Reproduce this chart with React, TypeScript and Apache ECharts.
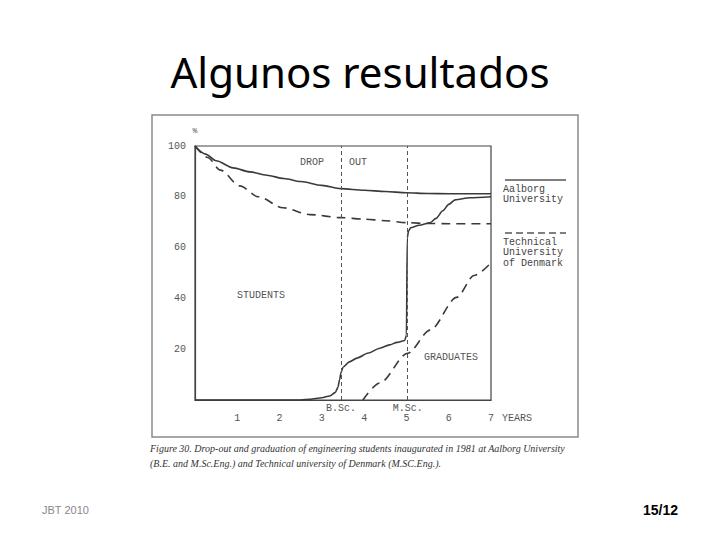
import React, { useEffect, useRef } from "react";
import * as echarts from "echarts";

// ---- data ----
const titleText = "Algunos resultados";
const yearMin = 0;
const yearMax = 7;
const percentMin = 0;
const percentMax = 100;
const percentStep = 20;
const degreeLabels = ["B.Sc.", "M.Sc."];
const degreeYears = [3.45, 5.03];

const aalborgStudentYears = [0, 0.25, 0.5, 0.9, 1.3, 1.7, 2.1, 2.5, 3.0, 3.45, 4.0, 4.5, 5.0, 5.5, 6.0, 6.5, 7.0];
const aalborgStudentValues = [100, 96.8, 94.2, 91.4, 89.8, 88.5, 87.2, 86.0, 84.5, 83.2, 82.6, 82.1, 81.6, 81.3, 81.2, 81.2, 81.2];

const dtuStudentYears = [0, 0.3, 0.6, 1.06, 1.5, 2.08, 2.72, 3.45, 4.0, 4.5, 5.03, 5.5, 6.0, 7.0];
const dtuStudentValues = [100, 95.5, 90.5, 84.3, 80.0, 75.7, 73.0, 71.8, 71.2, 70.6, 69.8, 69.5, 69.4, 69.4];

const aalborgGraduateYears = [0, 2.5, 2.72, 3.0, 3.19, 3.32, 3.38, 3.42, 3.45, 3.5, 3.65, 3.83, 4.1, 4.37, 4.6, 4.78, 4.96, 5.0, 5.02, 5.05, 5.1, 5.3, 5.56, 5.7, 5.86, 6.0, 6.15, 6.5, 7.0];
const aalborgGraduateValues = [0, 0, 0.3, 0.9, 1.6, 3.0, 5.0, 8.0, 10.6, 12.9, 15.0, 16.5, 18.5, 20.4, 21.7, 22.7, 23.4, 25.5, 64.0, 66.5, 67.8, 68.8, 69.8, 71.5, 74.5, 77.0, 78.8, 79.6, 80.0];

const dtuGraduateYears = [3.97, 4.37, 5.03, 5.56, 6.19, 6.6, 7.0];
const dtuGraduateValues = [0, 6.7, 18.4, 27.5, 40.4, 49.0, 54.0];

const legendNames = ["Aalborg\nUniversity", "Technical\nUniversity\nof Denmark"];
const captionLines = [
  "Figure 30. Drop-out and graduation of engineering students inaugurated in 1981 at Aalborg University",
  "(B.E. and M.Sc.Eng.) and Technical university of Denmark (M.SC.Eng.).",
];
const footerLeft = "JBT 2010";
const footerRight = "15/12";

const zip = (xs: number[], ys: number[]) => xs.map((x, i) => [x, ys[i]]);

const MONO = "'Liberation Mono', 'DejaVu Sans Mono', monospace";
const INK = "#3a3a3a";
const LABEL = "#555";

export default function App() {
  const ref = useRef<HTMLDivElement>(null);

  useEffect(() => {
    if (!ref.current) return;
    const chart = echarts.init(ref.current, null, { renderer: "svg" });

    const solid = { color: INK, width: 1.6, type: "solid" as const };
    const dashed = { color: INK, width: 1.6, type: [9, 6] as any };

    chart.setOption({
      animation: false,
      backgroundColor: "#ffffff",
      title: {
        text: titleText,
        left: "center",
        top: 45,
        textStyle: {
          fontFamily: "'Noto Sans', 'Liberation Sans', sans-serif",
          fontSize: 42,
          fontWeight: "normal",
          color: "#000",
        },
      },
      grid: {
        left: 195,
        top: 146,
        right: 229,
        bottom: 140,
        show: true,
        borderColor: "#444",
        borderWidth: 1.2,
        containLabel: false,
      },
      xAxis: {
        type: "value",
        min: yearMin,
        max: yearMax,
        interval: 1,
        name: "YEARS",
        nameLocation: "end",
        nameGap: 11,
        nameTextStyle: {
          fontFamily: MONO,
          fontSize: 10,
          color: LABEL,
          verticalAlign: "top",
          padding: [13, 0, 0, 0],
        },
        axisLine: { show: true, lineStyle: { color: "#444", width: 1.2 } },
        axisTick: { show: false },
        splitLine: { show: false },
        axisLabel: {
          margin: 13,
          fontFamily: MONO,
          fontSize: 10,
          color: LABEL,
          formatter: (v: number) => (v === 0 ? "" : String(v)),
        },
      },
      yAxis: {
        type: "value",
        min: percentMin,
        max: percentMax,
        interval: percentStep,
        name: "%",
        nameLocation: "end",
        nameGap: 12,
        nameTextStyle: { fontFamily: MONO, fontSize: 8, color: LABEL },
        axisLine: { show: true, lineStyle: { color: "#444", width: 1.2 } },
        axisTick: { show: false },
        splitLine: { show: false },
        axisLabel: {
          margin: 9,
          fontFamily: MONO,
          fontSize: 10,
          color: LABEL,
          formatter: (v: number) => (v === 0 ? "" : String(v)),
        },
      },
      series: [
        {
          name: "Aalborg University students",
          type: "line",
          data: zip(aalborgStudentYears, aalborgStudentValues),
          showSymbol: false,
          smooth: 0.3,
          smoothMonotone: "x",
          lineStyle: solid,
          markLine: {
            silent: true,
            symbol: ["none", "none"],
            lineStyle: { color: "#555", width: 1, type: [4, 3] },
            label: {
              show: true,
              position: "start",
              distance: 3,
              fontFamily: MONO,
              fontSize: 10,
              color: LABEL,
              formatter: (p: any) => p.name,
            },
            data: degreeYears.map((y, i) => ({ xAxis: y, name: degreeLabels[i] })),
          },
        },
        {
          name: "Technical University of Denmark students",
          type: "line",
          data: zip(dtuStudentYears, dtuStudentValues),
          showSymbol: false,
          smooth: 0.3,
          smoothMonotone: "x",
          lineStyle: dashed,
        },
        {
          name: "Aalborg University graduates",
          type: "line",
          data: zip(aalborgGraduateYears, aalborgGraduateValues),
          showSymbol: false,
          smooth: 0.25,
          smoothMonotone: "x",
          lineStyle: solid,
        },
        {
          name: "Technical University of Denmark graduates",
          type: "line",
          data: zip(dtuGraduateYears, dtuGraduateValues),
          showSymbol: false,
          smooth: 0.3,
          smoothMonotone: "x",
          lineStyle: dashed,
        },
      ],
      graphic: [
        {
          type: "rect",
          silent: true,
          z: -1,
          shape: { x: 152, y: 115, width: 426, height: 322 },
          style: { fill: "none", stroke: "#8a8a8a", lineWidth: 1.5 },
        },
        { type: "text", x: 300, y: 162, style: { text: "DROP", fontFamily: MONO, fontSize: 10, fill: LABEL, verticalAlign: "middle" } },
        { type: "text", x: 349, y: 162, style: { text: "OUT", fontFamily: MONO, fontSize: 10, fill: LABEL, verticalAlign: "middle" } },
        { type: "text", x: 237, y: 295, style: { text: "STUDENTS", fontFamily: MONO, fontSize: 10, fill: LABEL, verticalAlign: "middle" } },
        { type: "text", x: 424, y: 357, style: { text: "GRADUATES", fontFamily: MONO, fontSize: 10, fill: LABEL, verticalAlign: "middle" } },
        {
          type: "line",
          shape: { x1: 505, y1: 180, x2: 566, y2: 180 },
          style: { stroke: "#555", lineWidth: 1.3 },
        },
        {
          type: "text",
          x: 503,
          y: 184,
          style: { text: legendNames[0], fontFamily: MONO, fontSize: 10, lineHeight: 10.5, fill: "#444" },
        },
        {
          type: "line",
          shape: { x1: 505, y1: 233, x2: 566, y2: 233 },
          style: { stroke: "#555", lineWidth: 1.3, lineDash: [7, 4] },
        },
        {
          type: "text",
          x: 503,
          y: 237,
          style: { text: legendNames[1], fontFamily: MONO, fontSize: 10, lineHeight: 10.5, fill: "#444" },
        },
        {
          type: "text",
          x: 150,
          y: 441,
          style: {
            text: captionLines.join("\n"),
            fontFamily: "'Liberation Serif', 'DejaVu Serif', serif",
            fontStyle: "italic",
            fontSize: 10,
            lineHeight: 15,
            fill: "#333",
          },
        },
        {
          type: "text",
          x: 42,
          y: 510,
          style: {
            text: footerLeft,
            fontFamily: "'Liberation Sans', Arial, sans-serif",
            fontSize: 11,
            fill: "#888",
            verticalAlign: "middle",
          },
        },
        {
          type: "text",
          x: 678,
          y: 510,
          style: {
            text: footerRight,
            fontFamily: "'Liberation Sans', Arial, sans-serif",
            fontSize: 14,
            fontWeight: "bold",
            fill: "#000",
            align: "right",
            verticalAlign: "middle",
          },
        },
      ],
    });

    return () => chart.dispose();
  }, []);

  return (
    <div
      ref={ref}
      style={{ position: "fixed", left: 0, top: 0, width: 720, height: 540 }}
    />
  );
}
